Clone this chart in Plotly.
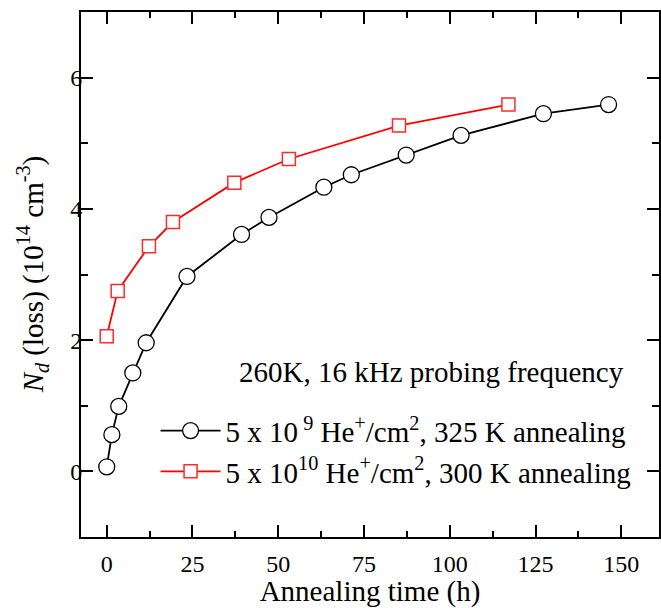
import plotly.graph_objects as go

# Data
time_a = [0, 1.5, 3.5, 7.6, 11.5, 23.4, 39.3, 47.3, 63.3, 71.3, 87.3, 103.3, 127.3, 146.3]
nd_a = [0.07, 0.56, 0.99, 1.50, 1.96, 2.97, 3.61, 3.87, 4.33, 4.52, 4.82, 5.12, 5.45, 5.59]

time_b = [0, 3.2, 12.3, 19.3, 37.2, 53.1, 85.2, 117.1]
nd_b = [2.06, 2.75, 3.43, 3.80, 4.40, 4.76, 5.27, 5.59]

name_a = "5 x 10<sup> 9</sup> He<sup>+</sup>/cm<sup>2</sup>, 325 K annealing"
name_b = "5 x 10<sup>10</sup> He<sup>+</sup>/cm<sup>2</sup>, 300 K annealing"

x_ticks = [0, 25, 50, 75, 100, 125, 150]
y_ticks = [0, 2, 4, 6]

FONT = "Times New Roman, Liberation Serif, serif"

fig = go.Figure()
fig.add_trace(go.Scatter(
    x=time_a, y=nd_a, mode="lines+markers", name=name_a,
    line=dict(color="black", width=1.8),
    marker=dict(symbol="circle", size=16, color="white",
                line=dict(color="black", width=1.3)),
))
fig.add_trace(go.Scatter(
    x=time_b, y=nd_b, mode="lines+markers", name=name_b,
    line=dict(color="#ff0000", width=1.8),
    marker=dict(symbol="square", size=13, color="white",
                line=dict(color="#ff2a2a", width=1.5)),
))

axis_common = dict(
    showline=True, linecolor="black", linewidth=2, mirror="ticks",
    ticks="inside", ticklen=12, tickwidth=2, tickcolor="black",
    showgrid=False, zeroline=False, automargin=False,
    tickfont=dict(family=FONT, size=24, color="black"),
)

fig.update_xaxes(
    range=[-7.5, 161], tickvals=x_ticks, ticklabelstandoff=4,
    minor=dict(dtick=12.5, tick0=0, ticks="inside", ticklen=6, tickwidth=2, tickcolor="black"),
    title=dict(text="Annealing time (h)", font=dict(family=FONT, size=29, color="black"), standoff=2),
    **axis_common,
)
fig.update_yaxes(
    range=[-1, 7], tickvals=y_ticks, ticklabelstandoff=-8,
    minor=dict(dtick=1, tick0=0, ticks="inside", ticklen=7, tickwidth=2, tickcolor="black"),
    **axis_common,
)

# y-axis title placed as a rotated annotation for exact positioning
fig.add_annotation(
    text="<i>N</i><sub><i>d</i></sub> (loss) (10<sup>14</sup> cm<sup>-3</sup>)",
    xref="paper", yref="paper", x=-0.085, y=0.5, xanchor="center", yanchor="middle",
    textangle=-90, showarrow=False,
    font=dict(family=FONT, size=29, color="black"),
)

fig.add_annotation(
    text="260K, 16 kHz probing frequency", xref="paper", yref="paper",
    x=0.943, y=0.315, xanchor="right", yanchor="middle", showarrow=False,
    font=dict(family=FONT, size=29, color="black"),
)

fig.update_layout(
    width=661, height=608,
    margin=dict(l=81, r=2, t=12, b=71),
    paper_bgcolor="white", plot_bgcolor="white",
    font=dict(family=FONT, size=29, color="black"),
    showlegend=True,
    legend=dict(x=0.129, y=0.251, xanchor="left", yanchor="top",
                bgcolor="rgba(0,0,0,0)", font=dict(family=FONT, size=29, color="black"),
                tracegroupgap=0, itemwidth=60),
)

fig.write_html("out.html", config={"displayModeBar": False},
               post_script="document.body.style.margin='0';")
